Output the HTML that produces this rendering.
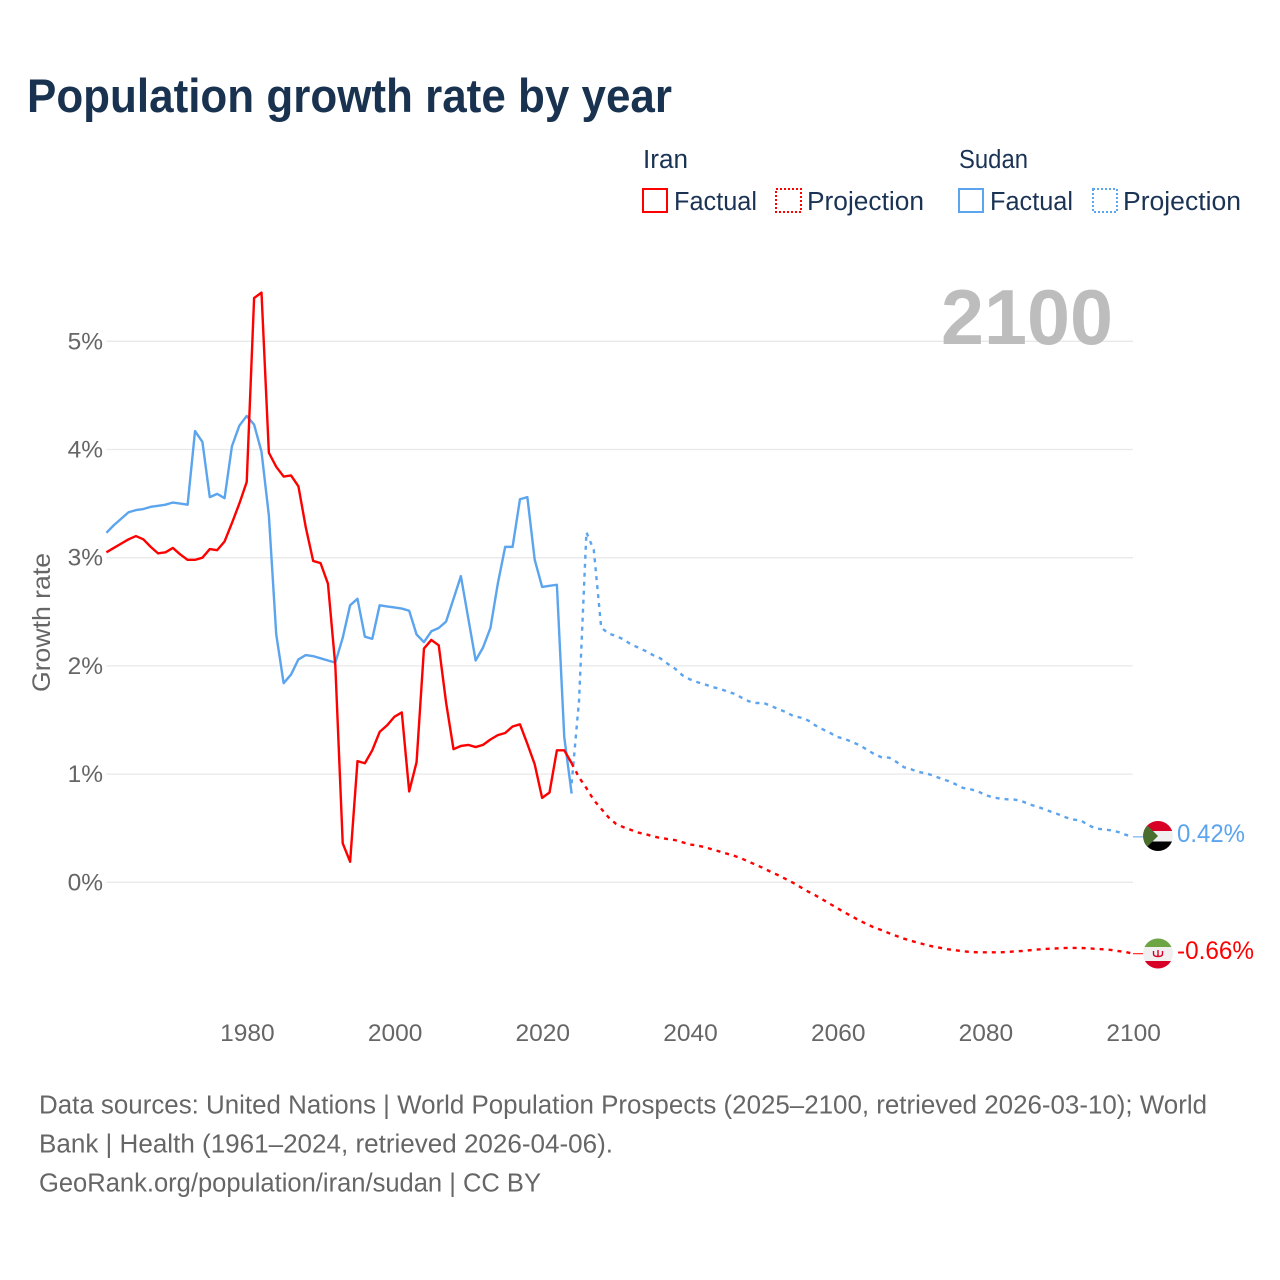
<!DOCTYPE html>
<html lang="en">
<head>
<meta charset="utf-8">
<title>Population growth rate by year</title>
<style>
html,body{margin:0;padding:0;background:#fff;width:1280px;height:1280px;overflow:hidden}
svg{display:block}
text{font-family:"Liberation Sans",sans-serif}
</style>
</head>
<body>
<svg id="chart" xmlns="http://www.w3.org/2000/svg" width="1280" height="1280" viewBox="0 0 1280 1280">
  <rect x="0" y="0" width="1280" height="1280" fill="#fff"/>
  <text x="27" y="112" font-size="47" font-weight="700" fill="#18324f" textLength="645" lengthAdjust="spacingAndGlyphs">Population growth rate by year</text>

  <g font-size="25.5" fill="#1a3354">
    <text x="643" y="168" textLength="45" lengthAdjust="spacingAndGlyphs">Iran</text>
    <text x="959" y="168" textLength="69" lengthAdjust="spacingAndGlyphs">Sudan</text>
    <rect x="643" y="189" width="24" height="23" fill="none" stroke="#ff0000" stroke-width="2"/>
    <text x="674" y="210" textLength="83" lengthAdjust="spacingAndGlyphs">Factual</text>
    <rect x="776" y="189" width="25" height="23" fill="none" stroke="#ff0000" stroke-width="2" stroke-dasharray="2 2"/>
    <text x="807" y="210" textLength="117" lengthAdjust="spacingAndGlyphs">Projection</text>
    <rect x="959" y="189" width="24" height="23" fill="none" stroke="#5ba4ee" stroke-width="2"/>
    <text x="990" y="210" textLength="83" lengthAdjust="spacingAndGlyphs">Factual</text>
    <rect x="1093" y="189" width="24" height="23" fill="none" stroke="#5ba4ee" stroke-width="2" stroke-dasharray="2 2"/>
    <text x="1123" y="210" textLength="118" lengthAdjust="spacingAndGlyphs">Projection</text>
  </g>

  <g id="grid"></g>
  <g id="ytick-labels"></g>
  <g id="xtick-labels"></g>
  <text transform="translate(50,622.5) rotate(-90)" text-anchor="middle" font-size="25" fill="#666" textLength="139" lengthAdjust="spacingAndGlyphs">Growth rate</text>
  <text x="941" y="344" font-size="78" font-weight="700" fill="#bdbdbd" textLength="172" lengthAdjust="spacingAndGlyphs">2100</text>

  <g id="series"></g>

  <defs>
    <clipPath id="clip-sudan"><circle cx="1158" cy="836" r="15"/></clipPath>
    <clipPath id="clip-iran"><circle cx="1158" cy="953.5" r="15"/></clipPath>
  </defs>
  <g clip-path="url(#clip-sudan)">
    <rect x="1143" y="821" width="30" height="30" fill="#f0f0f0"/>
    <rect x="1143" y="821" width="30" height="10" fill="#d80027"/>
    <rect x="1143" y="841.5" width="30" height="10" fill="#000"/>
    <path d="M1143 821 L1158 836 L1143 851 Z" fill="#496e2d"/>
  </g>
  <g clip-path="url(#clip-iran)">
    <rect x="1143" y="938" width="30" height="31" fill="#f0f0f0"/>
    <rect x="1143" y="938" width="30" height="9" fill="#6da544"/>
    <rect x="1143" y="961" width="30" height="9" fill="#d80027"/>
    <path d="M1153.5 951 v3 q0 2.5 4.5 2.5 t4.500 -2.500 v-3 M1158 950 v7" fill="none" stroke="#d80027" stroke-width="1.4"/>
  </g>
  <text x="1177" y="842" font-size="25" fill="#5ba4ee" textLength="68" lengthAdjust="spacingAndGlyphs">0.42%</text>
  <text x="1177" y="959" font-size="25" fill="#ff0000" textLength="77" lengthAdjust="spacingAndGlyphs">-0.66%</text>

  <g font-size="25.500" fill="#666">
    <text x="39" y="1113.5" textLength="1168" lengthAdjust="spacingAndGlyphs">Data sources: United Nations | World Population Prospects (2025–2100, retrieved 2026-03-10); World</text>
    <text x="39" y="1152.5" textLength="574" lengthAdjust="spacingAndGlyphs">Bank | Health (1961–2024, retrieved 2026-04-06).</text>
    <text x="39" y="1191.5" textLength="502" lengthAdjust="spacingAndGlyphs">GeoRank.org/population/iran/sudan | CC BY</text>
  </g>
</svg>
<script>
const factualStartYear = 1961;
const projectionStartYear = 2024;
const finalYear = 2100;
const xTickYears = [1980, 2000, 2020, 2040, 2060, 2080, 2100];
const yTickValues = [0, 1, 2, 3, 4, 5];
const iranFactual = [3.05,3.09,3.13,3.17,3.20,3.17,3.10,3.04,3.05,3.09,3.03,2.98,2.98,3.00,3.08,3.07,3.15,3.32,3.50,3.70,5.40,5.45,3.97,3.84,3.75,3.76,3.66,3.28,2.97,2.95,2.76,2.00,0.36,0.19,1.12,1.10,1.22,1.39,1.45,1.53,1.57,0.84,1.11,2.16,2.24,2.19,1.66,1.23,1.26,1.27,1.25,1.27,1.32,1.36,1.38,1.44,1.46,1.28,1.09,0.78,0.83,1.22,1.22,1.10];
const sudanFactual = [3.23,3.30,3.36,3.42,3.44,3.45,3.47,3.48,3.49,3.51,3.50,3.49,4.17,4.07,3.56,3.59,3.55,4.03,4.22,4.31,4.23,3.98,3.39,2.29,1.84,1.92,2.06,2.10,2.09,2.07,2.05,2.03,2.26,2.56,2.62,2.27,2.25,2.56,2.55,2.54,2.53,2.51,2.29,2.22,2.32,2.35,2.41,2.62,2.83,2.44,2.05,2.17,2.35,2.76,3.10,3.10,3.54,3.56,2.98,2.73,2.74,2.75,1.34,0.82];
const iranProjection = [1.10,0.97,0.87,0.76,0.68,0.60,0.54,0.51,0.485,0.46,0.445,0.425,0.41,0.40,0.39,0.37,0.35,0.34,0.325,0.305,0.285,0.265,0.245,0.22,0.19,0.16,0.13,0.095,0.065,0.03,-0.005,-0.045,-0.085,-0.12,-0.16,-0.20,-0.24,-0.28,-0.317,-0.354,-0.388,-0.419,-0.443,-0.471,-0.496,-0.521,-0.542,-0.56,-0.579,-0.595,-0.607,-0.619,-0.628,-0.638,-0.644,-0.647,-0.647,-0.647,-0.647,-0.644,-0.638,-0.635,-0.628,-0.622,-0.616,-0.613,-0.61,-0.607,-0.607,-0.607,-0.61,-0.616,-0.619,-0.625,-0.635,-0.644,-0.66];
const sudanProjection = [0.915,1.68,3.235,3.07,2.354,2.30,2.276,2.246,2.20,2.17,2.138,2.10,2.07,2.02,1.975,1.913,1.876,1.85,1.83,1.805,1.79,1.765,1.743,1.707,1.673,1.657,1.657,1.63,1.60,1.574,1.537,1.522,1.497,1.45,1.414,1.38,1.343,1.324,1.297,1.266,1.226,1.183,1.155,1.152,1.112,1.063,1.044,1.02,1.007,0.986,0.958,0.936,0.906,0.872,0.86,0.841,0.807,0.786,0.773,0.767,0.764,0.749,0.72,0.70,0.675,0.65,0.626,0.598,0.58,0.57,0.527,0.496,0.49,0.48,0.465,0.44,0.42];

const SVG_NS = 'http://www.w3.org/2000/svg';
const RED = '#ff0000';
const BLUE = '#5ba4ee';
function xScale(year) { return 106.4 + (year - 1961) * 7.385; }
function yScale(value) { return 882.3 - value * 108.2; }
function linePath(startYear, values) {
  return values.map(function (v, i) {
    return (i ? 'L' : 'M') + xScale(startYear + i).toFixed(2) + ' ' + yScale(v).toFixed(2);
  }).join(' ');
}

const gridGroup = document.getElementById('grid');
const yLabelGroup = document.getElementById('ytick-labels');
yTickValues.forEach(function (v) {
  const line = document.createElementNS(SVG_NS, 'line');
  
  
  line.setAttribute('x1', xScale(factualStartYear));
  line.setAttribute('x2', xScale(finalYear));
  line.setAttribute('y1', yScale(v));
  line.setAttribute('y2', yScale(v));
  line.setAttribute('stroke', '#e9e9e9');
  line.setAttribute('stroke-width', '1.3');
  gridGroup.appendChild(line);
  const label = document.createElementNS(SVG_NS, 'text');
  
  
  label.setAttribute('x', '103');
  label.setAttribute('y', yScale(v) + 8);
  label.setAttribute('text-anchor', 'end');
  label.setAttribute('font-size', '24.5');
  label.setAttribute('fill', '#666');
  label.textContent = v + '%';
  yLabelGroup.appendChild(label);
});

const xLabelGroup = document.getElementById('xtick-labels');
xTickYears.forEach(function (yr) {
  const label = document.createElementNS(SVG_NS, 'text');
  
  
  label.setAttribute('x', xScale(yr) + 0.7);
  label.setAttribute('y', '1041');
  label.setAttribute('text-anchor', 'middle');
  label.setAttribute('font-size', '24.5');
  label.setAttribute('fill', '#666');
  label.textContent = yr;
  xLabelGroup.appendChild(label);
});

const seriesGroup = document.getElementById('series');
function addSeries(name, startYear, values, color, dashed) {
  const path = document.createElementNS(SVG_NS, 'path');
  
  
  path.setAttribute('d', linePath(startYear, values));
  path.setAttribute('fill', 'none');
  path.setAttribute('stroke', color);
  path.setAttribute('stroke-width', '2.4');
  path.setAttribute('stroke-linejoin', 'round');
  if (dashed) { path.setAttribute('stroke-dasharray', '4 5'); }
  seriesGroup.appendChild(path);
}
addSeries('sudan-projection-line', projectionStartYear, sudanProjection, BLUE, true);
addSeries('iran-projection-line', projectionStartYear, iranProjection, RED, true);
addSeries('sudan-factual-line', factualStartYear, sudanFactual, BLUE, false);
addSeries('iran-factual-line', factualStartYear, iranFactual, RED, false);

function addConnector(name, value, color) {
  const c = document.createElementNS(SVG_NS, 'line');
  
  
  c.setAttribute('x1', xScale(finalYear));
  c.setAttribute('x2', '1144');
  c.setAttribute('y1', yScale(value));
  c.setAttribute('y2', yScale(value));
  c.setAttribute('stroke', color);
  c.setAttribute('stroke-width', '1');
  seriesGroup.appendChild(c);
}
addConnector('sudan-end-connector', sudanProjection[sudanProjection.length - 1], BLUE);
addConnector('iran-end-connector', iranProjection[iranProjection.length - 1], RED);
</script>
</body>
</html>
